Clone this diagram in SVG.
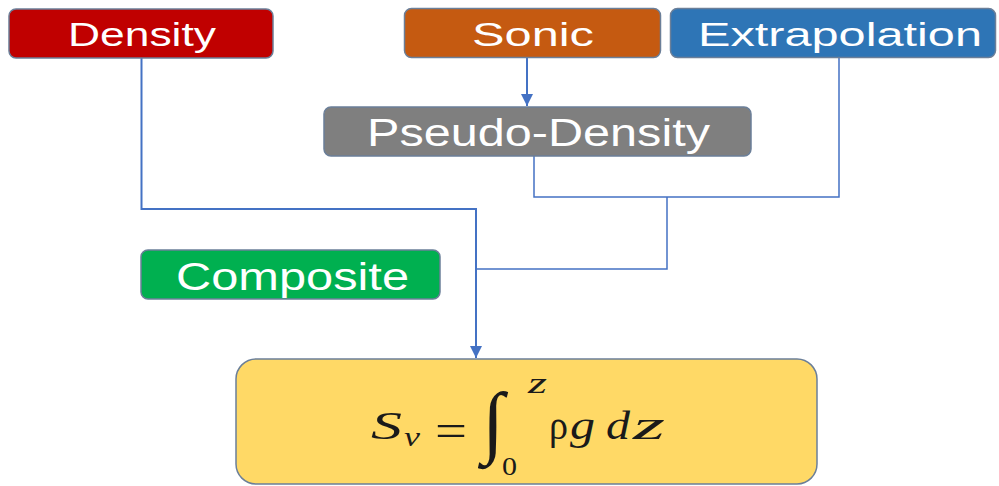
<svg xmlns="http://www.w3.org/2000/svg" width="999" height="486" viewBox="0 0 999 486">
<style>
.box{stroke:#6b7f99;stroke-width:1.5}
.lbl{font-family:"Liberation Sans",Arial,sans-serif;fill:#ffffff}
.conn{fill:none;stroke:#4472C4;stroke-width:2}
.thin{fill:none;stroke:#4472C4;stroke-width:1.5}
.math{font-family:"Liberation Serif","Times New Roman",serif;fill:#1a1a1a}
.it{font-style:italic}
</style>
<defs>
<marker id="arr" viewBox="0 0 10 10" refX="10" refY="5" markerWidth="6" markerHeight="6" orient="auto" markerUnits="strokeWidth">
<path d="M0,0 L10,5 L0,10 z" fill="#4472C4"/>
</marker>
</defs>
<rect width="999" height="486" fill="#ffffff"/>
<g id="connectors">
<path class="conn" d="M141.5,58 V209 H476 V358" marker-end="url(#arr)"/>
<path class="conn" d="M527,57 V106" marker-end="url(#arr)"/>
<path class="thin" d="M534,156 V197 H839 V57"/>
<path class="thin" d="M667,197 V269 H476"/>
</g>
<g id="density">
<rect class="box" x="9" y="9" width="264" height="49" rx="7" fill="#C00000"/>
<text class="lbl" x="68" y="46" font-size="33" textLength="148" lengthAdjust="spacingAndGlyphs">Density</text>
</g>
<g id="sonic">
<rect class="box" x="404.5" y="8.5" width="256" height="49" rx="7" fill="#C55A11"/>
<text class="lbl" x="472" y="46" font-size="33" textLength="122" lengthAdjust="spacingAndGlyphs">Sonic</text>
</g>
<g id="extrapolation">
<rect class="box" x="670.5" y="8.5" width="325" height="49" rx="7" fill="#2E75B6"/>
<text class="lbl" x="698" y="46" font-size="33" textLength="284" lengthAdjust="spacingAndGlyphs">Extrapolation</text>
</g>
<g id="pseudo-density">
<rect class="box" x="324" y="107" width="427" height="49" rx="7" fill="#7F7F7F" stroke="#41719C"/>
<text class="lbl" x="367" y="146" font-size="38" textLength="343" lengthAdjust="spacingAndGlyphs">Pseudo-Density</text>
</g>
<g id="composite">
<rect class="box" x="141" y="250" width="299" height="49" rx="7" fill="#00B050"/>
<text class="lbl" x="176" y="290" font-size="38" textLength="233" lengthAdjust="spacingAndGlyphs">Composite</text>
</g>
<g id="formula">
<rect class="box" x="236" y="359" width="581" height="125" rx="20" fill="#FFD966" stroke="#41719C"/>
<text class="math it" x="371" y="439" font-size="40" textLength="31" lengthAdjust="spacingAndGlyphs">S</text>
<text class="math it" x="404" y="446" font-size="28" textLength="16" lengthAdjust="spacingAndGlyphs">v</text>
<text class="math" x="435" y="446" font-size="46" textLength="32" lengthAdjust="spacingAndGlyphs">=</text>
<text class="math" x="482" y="448" font-size="80" font-family="DejaVu Serif">∫</text>
<text class="math it" x="528" y="393" font-size="30" textLength="19" lengthAdjust="spacingAndGlyphs">z</text>
<text class="math" x="502" y="475" font-size="25" textLength="15" lengthAdjust="spacingAndGlyphs">0</text>
<text class="math" x="549" y="439" font-size="40" textLength="19" lengthAdjust="spacingAndGlyphs">ρ</text>
<text class="math it" x="570" y="439" font-size="40" textLength="25" lengthAdjust="spacingAndGlyphs">g</text>
<text class="math it" x="606" y="439" font-size="40" textLength="24" lengthAdjust="spacingAndGlyphs">d</text>
<text class="math it" x="633" y="439" font-size="40" textLength="32" lengthAdjust="spacingAndGlyphs">z</text>
</g>
</svg>
